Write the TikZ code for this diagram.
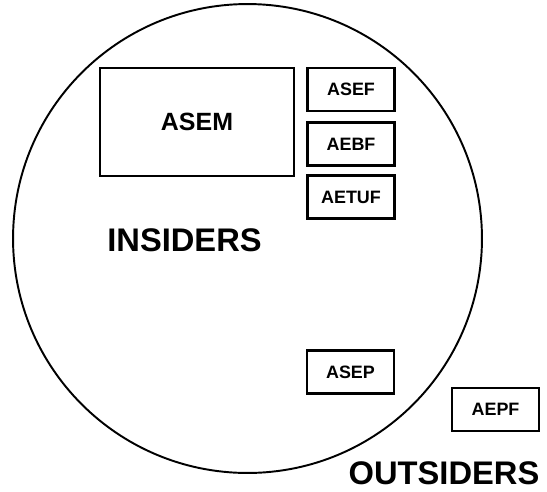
\documentclass[tikz,border=0pt]{standalone}
\usepackage{fontspec}
\setmainfont{Liberation Sans}

\begin{document}
\begin{tikzpicture}[x=0.02cm,y=-0.02cm,
  box/.style={draw,line width=1.3pt,minimum width=1.74cm,minimum height=0.86cm,
    inner sep=0pt,font=\bfseries\fontsize{10.2}{12}\selectfont},
  bigtitle/.style={inner sep=0pt,font=\bfseries\fontsize{18.6}{22}\selectfont}]
\useasboundingbox (0,0) rectangle (547,491);

\node (world) [draw,circle,line width=1.1pt,minimum size=9.38cm,inner sep=0pt] at (247.5,238.5) {};

\node (ASEM) [box,minimum width=3.88cm,minimum height=2.16cm,
  font=\bfseries\fontsize{14.2}{17}\selectfont] at (197,122) {ASEM};

\foreach \name/\y in {ASEF/89.5, AEBF/144, AETUF/197}
  \node (\name) [box] at (351,\y) {\name};

\node (ASEP) [box] at (350.5,372) {ASEP};
\node (AEPF) [box] at (495.5,409.5) {AEPF};

\node (insiders) [bigtitle] at (184.5,240) {INSIDERS};
\node (outsiders) [bigtitle] at (444,473.5) {OUTSIDERS};

\end{tikzpicture}
\end{document}
